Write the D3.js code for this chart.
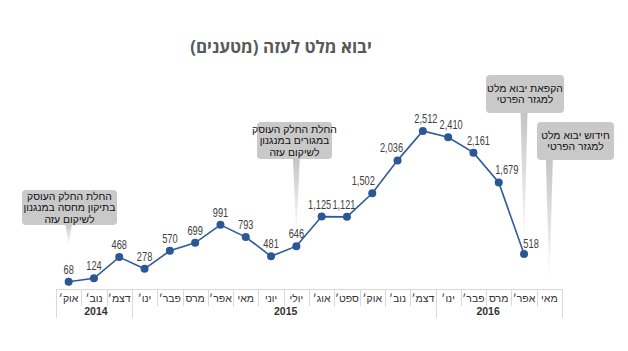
<!DOCTYPE html>
<html><head><meta charset="utf-8">
<script src="https://cdn.jsdelivr.net/npm/d3@7"></script>
<style>
html,body{margin:0;padding:0;background:#fff;}
svg{display:block;}
</style></head>
<body>
<svg id="chart" width="628" height="351"></svg>
<script>
const title = "יבוא מלט לעזה (מטענים)";
const months = ["אוק׳","נוב׳","דצמ׳","ינו׳","פבר׳","מרס","אפר׳","מאי","יוני","יולי","אוג׳","ספט׳","אוק׳","נוב׳","דצמ׳","ינו׳","פבר׳","מרס","אפר׳","מאי"];
const years = ["2014","2014","2014","2015","2015","2015","2015","2015","2015","2015","2015","2015","2015","2015","2015","2016","2016","2016","2016","2016"];
const values = [68,124,468,278,570,699,991,793,481,646,1125,1121,1502,2036,2512,2410,2161,1679,518,null];
const notes = [
  {idx:0, lines:["החלת החלק העוסק","בתיקון מחסה במנגנון","לשיקום עזה"]},
  {idx:9, lines:["החלת החלק העוסק","במגורים במנגנון","לשיקום עזה"]},
  {idx:18, lines:["הקפאת יבוא מלט","למגזר הפרטי"]},
  {idx:19, lines:["חידוש יבוא מלט","למגזר הפרטי"]}
];

const svg = d3.select("#chart");
const idx = d3.range(months.length);
const x = d3.scaleBand().domain(idx).range([56, 562]).paddingInner(0).paddingOuter(0);
const y = d3.scaleLinear().domain([0, 2600]).range([286, 286 - 2600*0.0617]);
const cx = i => x(i) + x.bandwidth()/2;
const fmt = d3.format(",");
const hebFont = "'Liberation Sans',Arial,sans-serif";

// title
svg.append("text").attr("x", 281).attr("y", 53).attr("text-anchor","middle")
  .attr("direction","rtl")
  .style("font-family","'Open Sans','DejaVu Sans',sans-serif").style("font-weight","bold")
  .style("font-size","17px").attr("fill","#595959").text(title);

// gradient for callout tails
const defs = svg.append("defs");
const gr = defs.append("linearGradient").attr("id","tail").attr("x1",0).attr("y1",0).attr("x2",0).attr("y2",1);
gr.append("stop").attr("offset","0%").attr("stop-color","#c4c4c4");
gr.append("stop").attr("offset","100%").attr("stop-color","#ffffff");

// callouts (layout in drawing code)
const boxLayout = [
  {x0:22, x1:117, y0:190, y1:225, tip:245},
  {x0:257, x1:332, y0:122, y1:159, tip:236},
  {x0:486, x1:564, y0:75, y1:113, tip:252},
  {x0:537, x1:614, y0:122, y1:160, tip:286}
];
notes.forEach((n, k) => {
  const b = boxLayout[k];
  const tx = cx(n.idx);
  const g = svg.append("g");
  g.append("path")
    .attr("d", `M${tx-3.5},${b.y1-2} L${tx+3.5},${b.y1-2} L${tx},${b.tip} Z`)
    .attr("fill","url(#tail)");
  g.append("rect").attr("x", b.x0).attr("y", b.y0).attr("width", b.x1-b.x0).attr("height", b.y1-b.y0)
    .attr("rx",4).attr("fill","#c9c9c9");
  const mid = (b.x0+b.x1)/2;
  const lh = 11.3;
  const top = (b.y0+b.y1)/2 - (n.lines.length-1)*lh/2;
  n.lines.forEach((l, j) => {
    g.append("text").attr("x", mid).attr("y", top + j*lh).attr("dy","0.36em")
      .attr("text-anchor","middle").attr("direction","rtl")
      .style("font-family",hebFont).style("font-size","10.4px")
      .attr("fill","#111").text(l);
  });
});

// axis boxes
const axisY = 289;
const ax = svg.append("g").attr("stroke","#d9d9d9").attr("stroke-width",1);
ax.append("line").attr("x1",56).attr("x2",562).attr("y1",axisY+0.5).attr("y2",axisY+0.5);
idx.concat([months.length]).forEach(i => {
  const xx = Math.round(i < months.length ? x(i) : x(months.length-1)+x.bandwidth()) + 0.5;
  const isYear = i === 0 || i === months.length || years[i] !== years[i-1];
  ax.append("line").attr("x1",xx).attr("x2",xx).attr("y1",axisY).attr("y2", isYear ? 318 : 306);
});
svg.append("g").selectAll("text").data(idx).join("text")
  .attr("x", i => cx(i)).attr("y", 302).attr("text-anchor","middle").attr("direction","rtl")
  .style("font-family",hebFont).style("font-size","10.5px")
  .attr("fill","#333").text(i => months[i]);
const yearGroups = d3.groups(idx.filter(i => values[i] !== null), i => years[i]);
svg.append("g").selectAll("text").data(yearGroups).join("text")
  .attr("x", d => (x(d[1][0]) + x(d[1][d[1].length-1]) + x.bandwidth())/2 + 2)
  .attr("y", 314.5).attr("text-anchor","middle")
  .style("font-family",hebFont).style("font-size","10.5px").style("font-weight","bold")
  .attr("fill","#333").text(d => d[0]);

// line
const pts = idx.filter(i => values[i] !== null);
svg.append("path").datum(pts)
  .attr("d", d3.line().x(i => cx(i)).y(i => y(values[i])))
  .attr("fill","none").attr("stroke","#2f5b9a").attr("stroke-width",1.6);
svg.append("g").selectAll("circle").data(pts).join("circle")
  .attr("cx", i => cx(i)).attr("cy", i => y(values[i])).attr("r",4).attr("fill","#2c5797");

// data labels (condensed by horizontal scaling)
const shift = {10:-2, 11:-3, 12:-9, 13:-6, 14:3, 15:3, 16:5, 17:8, 18:7};
svg.append("g").selectAll("text").data(pts).join("text")
  .attr("transform", i => `translate(${cx(i) + (shift[i] || 0)},${y(values[i]) - (i === 18 ? 6 : 8)}) scale(0.74,1)`)
  .attr("text-anchor","middle")
  .style("font-family","'Liberation Sans',Arial,sans-serif")
  .style("font-size","12.5px")
  .attr("fill","#404040").text(i => fmt(values[i]));
</script>
</body></html>
